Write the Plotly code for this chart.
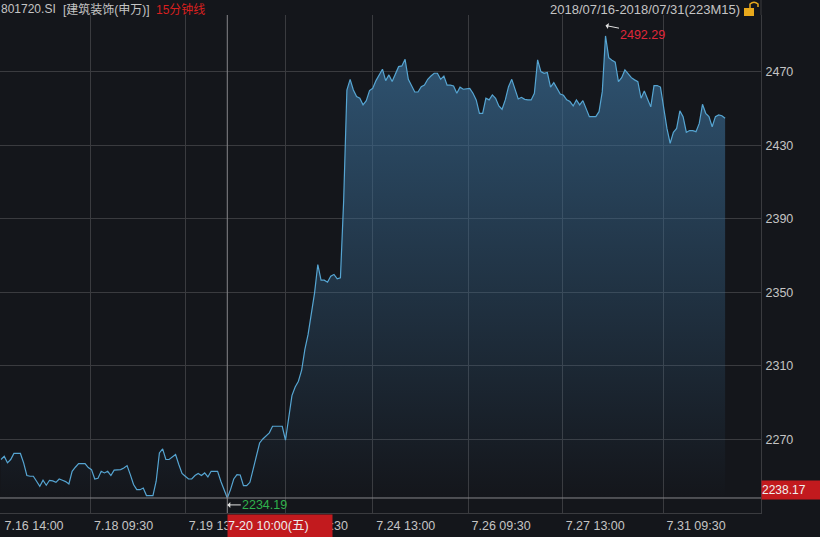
import plotly.graph_objects as go

W, H = 820, 537
ML, MR, MT, MB = 0, 59, 15, 24

closes = [
 2259.1,2260.9,2257.3,2259.1,2262.4,2262.4,2262.4,2257.3,2250.4,2250.0,2250.0,2247.3,2244.5,2247.8,2245.1,2247.8,2247.5,2246.7,2248.5,2247.8,
 2247.1,2245.8,2252.7,2254.9,2256.9,2256.9,2256.9,2254.7,2253.6,2248.5,2248.9,2252.7,2251.8,2252.7,2250.4,2253.3,2253.6,
 2253.6,2254.5,2255.8,2250.9,2245.5,2242.7,2242.7,2243.6,2239.5,2239.5,2239.5,2247.3,2262.7,2264.9,2259.1,2259.1,2260.5,2261.8,2256.4,
 2251.5,2250.0,2248.5,2248.5,2250.4,2251.5,2250.4,2251.8,2249.6,2252.7,2252.7,2252.7,2247.3,2242.7,2238.2,2242.7,2248.5,2250.9,2250.7,
 2244.9,2244.9,2246.7,2253.6,2260.0,2268.1,2270.3,2272.1,2273.6,2277.2,2277.2,2277.2,2277.2,2269.6,2280.8,2293.9,2298.6,2301.7,2307.7,2319.0,
 2327.2,2338.9,2349.8,2365.2,2356.7,2356.7,2355.6,2358.9,2359.8,2357.4,2358.0,
 2400.0,
 2460.2,2466.0,2460.2,2456.6,2455.7,2452.1,2454.4,2459.9,2461.1,2465.3,2468.4,2471.5,2465.3,2468.4,2464.8,2468.4,2472.9,2473.3,2476.9,2466.0,
 2462.9,2459.1,2459.1,2462.0,2462.9,2466.0,2467.8,2469.3,2469.3,2466.0,2467.8,2462.8,2462.8,2462.4,2458.4,2461.7,2460.6,2460.8,2461.1,2458.4,
 2454.8,2447.5,2447.5,2455.7,2454.8,2457.5,2455.7,2451.5,2449.7,2454.8,2462.0,2466.0,2461.1,2455.3,2456.2,2455.1,2454.8,2454.8,2458.4,
 2476.6,2470.2,2469.3,2469.7,2461.7,2464.2,2461.1,2458.0,2457.3,2454.8,2453.9,2451.5,2454.8,2452.1,2454.4,2449.7,2445.7,2445.7,2445.7,2448.4,
 2459.3,2489.6,2477.8,2476.4,2475.3,2464.7,2466.9,2471.1,2468.9,2466.9,2465.7,2464.7,2455.7,2459.7,2455.3,2451.0,2462.6,2462.6,2461.8,2450.2,
 2439.3,2431.2,2437.2,2439.3,2448.8,2445.7,2437.2,2438.1,2438.1,2437.5,2442.0,2452.4,2447.5,2445.7,2440.2,2445.7,2446.6,2446.2,2444.8,
]
bar_index = list(range(len(closes)))

x_tick_index = [0, 27.7, 57, 88, 115, 144.5, 173.6, 204.8]
x_tick_labels = ["7.16 14:00", "7.18 09:30", "7.19 13:30", "7.20 13:30", "7.24 13:00", "7.26 09:30", "7.27 13:00", "7.31 09:30"]
y_ticks = [2270, 2310, 2350, 2390, 2430, 2470]

low_index = 70
low_label = "2234.19"
high_index = 187
high_label = "2492.29"
cursor_value = 2238.17
cursor_time = "7-20 10:00(五)"

BG = "#14161b"
GRID = "#3a3b3f"
TXT = "#c4c4c4"
FONT = "Liberation Sans, Noto Sans CJK SC, sans-serif"

def px(x):
    return x / (W - ML - MR)
def py(y):
    return 1 - (y - MT) / (H - MT - MB)

fig = go.Figure()
fig.add_trace(go.Scatter(
    x=bar_index, y=closes, mode="lines",
    line=dict(color="#56a5d2", width=1.2),
    fill="tozeroy",
    fillgradient=dict(type="vertical", start=cursor_value, stop=2490,
                      colorscale=[[0, "rgba(58,109,150,0)"], [1, "rgba(58,109,150,0.72)"]]),
    hoverinfo="skip", showlegend=False,
))

def label(x, y, text, color=TXT, anchor="left", size=12, **kw):
    fig.add_annotation(xref="paper", yref="paper", x=px(x), y=py(y), text=text, showarrow=False,
                       xanchor=anchor, yanchor="middle", align=anchor, borderpad=0,
                       font=dict(family=FONT, size=size, color=color), **kw)

label(0, 9, "801720.SI")
label(62, 9, "[建筑装饰(申万)]")
label(155, 9, "15分钟线", color="#d8201f")
label(741, 9, "2018/07/16-2018/07/31(223M15)", anchor="right", size=13)
label(619, 35, high_label, color="#e0263a", size=12.5)
label(241, 505, low_label, color="#2fb24c", size=12.5)

# box labels
fig.add_annotation(xref="paper", yref="paper", x=px(227), y=py(526), text=cursor_time, showarrow=False,
                   xanchor="left", yanchor="middle", align="left", width=104, height=22, bgcolor="#c21a1e",
                   borderpad=0, font=dict(family=FONT, size=12.5, color="#eeeeee"))
fig.add_annotation(xref="paper", yref="paper", x=px(761), y=py(489.5), text=f"{cursor_value:.2f}", showarrow=False,
                   xanchor="left", yanchor="middle", align="left", width=59, height=18, bgcolor="#c21a1e",
                   borderpad=0, font=dict(family=FONT, size=12, color="#f0f0f0"))

# arrows to extremes
fig.add_annotation(x=low_index, y=2234.4, xref="x", yref="y", ax=15, ay=0, text="", showarrow=True,
                   arrowhead=1, arrowsize=1, arrowwidth=1, arrowcolor="#e0e0e0", standoff=0)
fig.add_annotation(x=high_index, y=2495.3, xref="x", yref="y", ax=15, ay=3, text="", showarrow=True,
                   arrowhead=1, arrowsize=1, arrowwidth=1, arrowcolor="#e0e0e0", standoff=0)

# cursor lines
fig.add_shape(type="line", xref="x", yref="paper", x0=low_index, x1=low_index, y0=0, y1=1,
              line=dict(color="#86878a", width=1))
fig.add_shape(type="line", xref="paper", yref="y", x0=0, x1=1, y0=cursor_value, y1=cursor_value,
              line=dict(color="#86878a", width=1))
# right frame up to the window top
fig.add_shape(type="line", xref="paper", yref="paper", x0=1, x1=1, y0=1, y1=py(0),
              line=dict(color=GRID, width=1))
# padlock
fig.add_shape(type="rect", xref="paper", yref="paper", x0=px(744), x1=px(754), y0=py(16), y1=py(8),
              fillcolor="#e8a91c", line=dict(width=0))
fig.add_shape(type="path", xref="paper", yref="paper",
              path=f"M {px(750)} {py(8)} L {px(750)} {py(4)} Q {px(754)} {py(0.5)} {px(758)} {py(4)} L {px(758)} {py(7)}",
              line=dict(color="#e8a91c", width=1.5))

fig.update_layout(
    width=W, height=H, autosize=False,
    margin=dict(l=ML, r=MR, t=MT, b=MB, pad=0),
    paper_bgcolor=BG, plot_bgcolor=BG,
    font=dict(family=FONT, size=12, color=TXT),
    showlegend=False,
    xaxis=dict(range=[-0.31, 235.1], tickmode="array", tickvals=x_tick_index, ticktext=x_tick_labels,
               showgrid=True, gridcolor=GRID, gridwidth=1, zeroline=False, ticks="outside", ticklen=1, tickcolor=BG,
               showline=True, linecolor=GRID, linewidth=1,
               ticklabelshift=33, ticklabeloverflow="allow", tickangle=0,
               tickfont=dict(family=FONT, size=12.5, color=TXT)),
    yaxis=dict(range=[2230, 2501], side="right", tickmode="array", tickvals=y_ticks,
               showgrid=True, gridcolor=GRID, gridwidth=1, zeroline=False, ticks="outside", ticklen=1, tickcolor=BG,
               showline=True, linecolor=GRID, linewidth=1,
               tickfont=dict(family=FONT, size=12.5, color=TXT)),
)

fig.write_html("out.html", config={"displayModeBar": False},
               post_script="document.body.style.margin='0';document.documentElement.style.background='#14161b';document.body.style.overflow='hidden';")
